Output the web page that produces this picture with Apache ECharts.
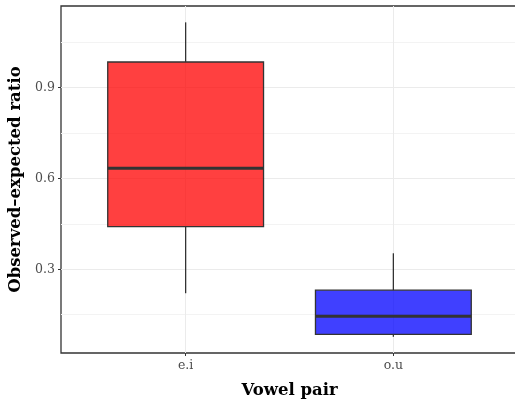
<!DOCTYPE html>
<html>
<head>
<meta charset="utf-8">
<script src="https://cdn.jsdelivr.net/npm/echarts@6/dist/echarts.min.js"></script>
<style>
  html, body { margin: 0; padding: 0; background: #fff; }
  #chart { width: 515px; height: 400px; }
</style>
</head>
<body>
<div id="chart"></div>
<script>
// vowel pairs on the x axis
const categories = ['e.i', 'o.u'];
const xPositions = [1, 2];
// box stats: lower whisker, Q1, median, Q3, upper whisker
const eiStats = [0.221, 0.441, 0.634, 0.985, 1.116];
const ouStats = [0.077, 0.085, 0.145, 0.231, 0.353];
const boxFills = ['rgba(255,0,0,0.75)', 'rgba(0,0,255,0.75)'];
const yTicks = [0.3, 0.6, 0.9];
const yMinorTicks = [0.15, 0.45, 0.75, 1.05];

const font = 'DejaVu Serif';
const halfBox = 0.375;

const boxData = [eiStats, ouStats].map(function (s, i) {
  return [xPositions[i]].concat(s);
});

function renderBox (params, api) {
  const x = api.value(0);
  const lo = api.value(1), q1 = api.value(2), med = api.value(3), q3 = api.value(4), hi = api.value(5);
  const tl = api.coord([x - halfBox, q3]);
  const br = api.coord([x + halfBox, q1]);
  const line = function (a, b, w) {
    const p1 = api.coord(a), p2 = api.coord(b);
    return {
      type: 'line',
      shape: { x1: p1[0], y1: p1[1], x2: p2[0], y2: p2[1] },
      style: { stroke: '#333333', lineWidth: w }
    };
  };
  return {
    type: 'group',
    children: [
      line([x, q3], [x, hi], 1.3),
      line([x, lo], [x, q1], 1.3),
      {
        type: 'rect',
        shape: { x: tl[0], y: tl[1], width: br[0] - tl[0], height: br[1] - tl[1] },
        style: { fill: boxFills[params.dataIndex], stroke: '#333333', lineWidth: 1.3 }
      },
      line([x - halfBox, med], [x + halfBox, med], 3)
    ]
  };
}

let mychart = echarts.init(document.getElementById('chart'));
mychart.setOption({
  backgroundColor: '#ffffff',
  animation: false,
  grid: {
    left: 61,
    top: 6,
    width: 457,
    height: 347,
    outerBoundsMode: 'none',
    containLabel: false,
    show: true,
    borderColor: '#333333',
    borderWidth: 1.3,
    backgroundColor: 'transparent'
  },
  xAxis: {
    type: 'value',
    min: 0.4,
    max: 2.6,
    name: 'Vowel pair',
    nameLocation: 'middle',
    nameGap: 29,
    nameTextStyle: { fontFamily: font, fontWeight: 'bold', fontSize: 16.5, color: '#000' },
    axisLine: { show: false },
    axisTick: { show: true, customValues: xPositions, length: 3, lineStyle: { color: '#333333' } },
    axisLabel: {
      customValues: xPositions,
      margin: 6,
      fontFamily: font,
      fontSize: 12.5,
      color: '#4D4D4D',
      formatter: function (v) { return categories[Math.round(v) - 1]; }
    },
    splitLine: { show: true, lineStyle: { color: '#EBEBEB', width: 1 } }
  },
  yAxis: [{
    type: 'value',
    min: 0.0235,
    max: 1.17,
    name: 'Observed–expected ratio',
    nameLocation: 'middle',
    nameRotate: 90,
    nameGap: 35,
    nameTextStyle: { fontFamily: font, fontWeight: 'bold', fontSize: 16.5, color: '#000' },
    axisLine: { show: false },
    axisTick: { show: true, customValues: yTicks, length: 3, lineStyle: { color: '#333333' } },
    axisLabel: {
      customValues: yTicks,
      margin: 6,
      fontFamily: font,
      fontSize: 12.5,
      color: '#4D4D4D',
      formatter: function (v) { return v.toFixed(1); }
    },
    splitLine: { show: true, lineStyle: { color: '#EBEBEB', width: 1 } }
  }, {
    type: 'value',
    position: 'left',
    min: 0.0235,
    max: 1.17,
    axisLine: { show: false },
    axisTick: { show: false, customValues: yMinorTicks },
    axisLabel: { show: false, customValues: yMinorTicks },
    splitLine: { show: true, lineStyle: { color: '#F3F3F3', width: 1 } }
  }],
  series: [{
    type: 'custom',
    renderItem: renderBox,
    encode: { x: 0, y: [1, 2, 3, 4, 5] },
    data: boxData,
    z: 3
  }]
});
</script>
</body>
</html>
